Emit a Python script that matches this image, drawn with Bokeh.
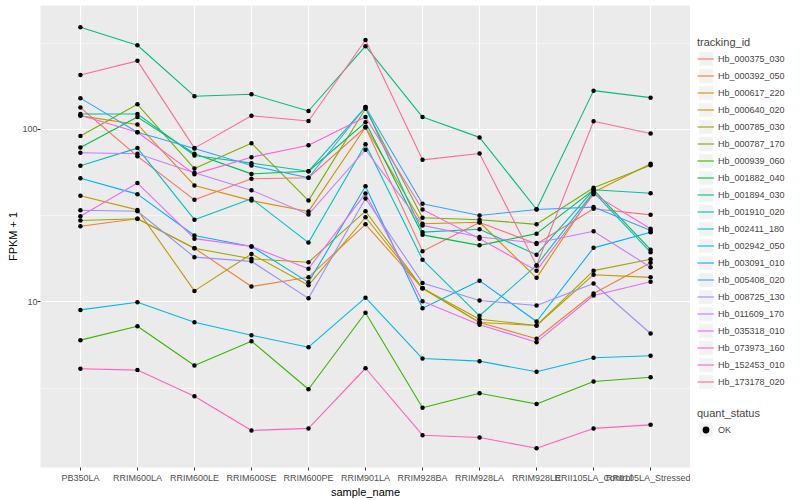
from bokeh.plotting import figure
from bokeh.layouts import row
from bokeh.models import (FactorRange, Range1d, FixedTicker, Legend, LegendItem,
                          ColumnDataSource, BasicTickFormatter)
from bokeh.embed import file_html
from bokeh.resources import INLINE

samples = ["PB350LA", "RRIM600LA", "RRIM600LE", "RRIM600SE", "RRIM600PE", "RRIM901LA",
           "RRIM928BA", "RRIM928LA", "RRIM928LE", "RRII105LA_Control", "RRII105LA_Stressed"]

tracking_ids = ["Hb_000375_030", "Hb_000392_050", "Hb_000617_220", "Hb_000640_020",
                "Hb_000785_030", "Hb_000787_170", "Hb_000939_060", "Hb_001882_040",
                "Hb_001894_030", "Hb_001910_020", "Hb_002411_180", "Hb_002942_050",
                "Hb_003091_010", "Hb_005408_020", "Hb_008725_130", "Hb_011609_170",
                "Hb_035318_010", "Hb_073973_160", "Hb_152453_010", "Hb_173178_020"]

palette = ["#F8766D", "#EA8331", "#D89000", "#C09B00", "#A3A500", "#7CAE00", "#39B600",
           "#00BB4E", "#00BF7D", "#00C1A3", "#00BFC4", "#00BAE0", "#00B0F6", "#35A2FF",
           "#9590FF", "#C77CFF", "#E76BF3", "#FA62DB", "#FF62BC", "#FF6C91"]

# FPKM + 1 per sample
Hb_000375_030 = [134, 70.0, 39.1, 51.8, 52.5, 103, 19.7, 28.9, 21.7, 34.7, 32.0]
Hb_000392_050 = [27.5, 30.4, 20.5, 12.3, 13.9, 28.2, 12.0, 7.61, 6.12, 11.2, 16.9]
Hb_000617_220 = [120, 107, 47.4, 38.7, 33.5, 103, 28.4, 29.0, 13.8, 43.3, 63.3]
Hb_000640_020 = [41.3, 34.2, 11.6, 19.0, 12.5, 31.0, 12.0, 7.61, 7.31, 14.4, 13.9]
Hb_000785_030 = [29.7, 30.4, 20.5, 17.8, 17.0, 33.6, 12.0, 7.95, 7.31, 15.2, 17.7]
Hb_000787_170 = [91.7, 140, 59.4, 83.3, 38.7, 132, 30.8, 30.0, 28.2, 45.9, 62.1]
Hb_000939_060 = [6.01, 7.24, 4.28, 5.93, 3.12, 8.66, 2.44, 2.96, 2.56, 3.46, 3.66]
Hb_001882_040 = [78.7, 118, 72.3, 55.3, 57.3, 110, 24.5, 21.3, 24.9, 44.7, 20.1]
Hb_001894_030 = [392, 308, 156, 160, 128, 304, 118, 90, 34.5, 168, 153]
Hb_001910_020 = [123, 123, 70.7, 63.8, 57.3, 135, 25.4, 26.4, 18.8, 44.7, 42.7]
Hb_002411_180 = [61.6, 78, 30.0, 39.7, 22.1, 82.2, 17.6, 8.32, 16.3, 43.3, 19.4]
Hb_002942_050 = [9.0, 9.97, 7.64, 6.42, 5.47, 10.6, 4.70, 4.54, 3.94, 4.75, 4.88]
Hb_003091_010 = [52.2, 42.2, 24.3, 21.0, 13.0, 46.9, 9.2, 13.3, 7.71, 20.6, 25.4]
Hb_005408_020 = [152, 96.4, 77.6, 61.8, 52.5, 135, 37.1, 31.7, 34.4, 35.5, 26.0]
Hb_008725_130 = [34.0, 33.6, 18.2, 17.2, 10.5, 39.8, 12.9, 10.2, 9.55, 12.8, 6.57]
Hb_011609_170 = [73.3, 72.3, 56.1, 44.5, 32.2, 76.3, 27.8, 23.8, 22.0, 25.7, 15.9]
Hb_035318_010 = [31.4, 48.9, 23.3, 21.0, 15.6, 42.6, 10.1, 7.38, 5.85, 10.9, 13.1]
Hb_073973_160 = [121, 96.4, 55.1, 69.1, 81.1, 118, 34.4, 23.3, 15.2, 42.2, 26.6]
Hb_152453_010 = [4.10, 4.03, 2.84, 1.80, 1.85, 4.13, 1.69, 1.64, 1.42, 1.85, 1.94]
Hb_173178_020 = [207, 250, 78, 120, 112, 330, 66.7, 72.6, 16.3, 111.7, 94.8]

series = [Hb_000375_030, Hb_000392_050, Hb_000617_220, Hb_000640_020, Hb_000785_030,
          Hb_000787_170, Hb_000939_060, Hb_001882_040, Hb_001894_030, Hb_001910_020,
          Hb_002411_180, Hb_002942_050, Hb_003091_010, Hb_005408_020, Hb_008725_130,
          Hb_011609_170, Hb_035318_010, Hb_073973_160, Hb_152453_010, Hb_173178_020]

FONT = "Liberation Sans"

p = figure(x_range=FactorRange(factors=samples, range_padding=0.2,
                               range_padding_units="absolute"),
           y_range=Range1d(10 ** 0.0406, 10 ** 2.7188), y_axis_type="log",
           frame_width=650, frame_height=462,
           min_border_left=40, min_border_top=5, min_border_right=0, min_border_bottom=0,
           output_backend="svg", toolbar_location=None,
           background_fill_color="#EBEBEB", border_fill_color="white")
p.outline_line_color = None

# grid
p.xgrid.grid_line_color = "white"
p.xgrid.grid_line_width = 1.1
p.ygrid.ticker = FixedTicker(ticks=[10, 100], minor_ticks=[10 ** 0.5, 10 ** 1.5, 10 ** 2.5])
p.ygrid.grid_line_color = "white"
p.ygrid.grid_line_width = 1.1
p.ygrid.minor_grid_line_color = "white"
p.ygrid.minor_grid_line_width = 0.55

# axes
p.yaxis.ticker = FixedTicker(ticks=[10, 100], minor_ticks=[])
p.yaxis.formatter = BasicTickFormatter()
for ax in (p.xaxis[0], p.yaxis[0]):
    ax.axis_line_color = None
    ax.major_tick_line_color = "#333333"
    ax.major_tick_out = 3
    ax.major_tick_in = 0
    ax.minor_tick_line_color = None
    ax.major_label_text_color = "#4D4D4D"
    ax.major_label_text_font = FONT
    ax.major_label_text_font_size = "9px"
    ax.major_label_standoff = 0
    ax.axis_label_text_font = FONT
    ax.axis_label_text_font_size = "11px"
    ax.axis_label_text_font_style = "normal"
    ax.axis_label_text_color = "black"
    ax.axis_label_standoff = 0
p.xaxis.major_label_standoff = 2
p.xaxis.axis_label = "sample_name"
p.yaxis.axis_label = "FPKM + 1"

for vals, col in zip(series, palette):
    src = ColumnDataSource(dict(x=samples, y=vals))
    p.line(x="x", y="y", source=src, line_color=col, line_width=1.1)

px, py = [], []
for vals in series:
    px.extend(samples)
    py.extend(vals)
p.scatter(x=px, y=py, marker="circle", size=4.5, fill_color="black", line_color=None)

# legend panel (separate figure so the legends sit beside the plot panel)
lf = figure(width=96, height=480, x_range=Range1d(0, 1), y_range=Range1d(0, 1),
            x_axis_location=None, y_axis_location=None,
            min_border_left=0, min_border_right=0, min_border_top=0, min_border_bottom=0,
            output_backend="svg", toolbar_location=None,
            background_fill_color="white", border_fill_color="white")
lf.outline_line_color = None
lf.grid.visible = False

key_r = lf.quad(left=[5], right=[6], bottom=[5], top=[6], fill_color="#F2F2F2", line_color=None)
items1 = []
for tid, col in zip(tracking_ids, palette):
    lr = lf.line(x=[5, 6], y=[5, 6], line_color=col, line_width=1.1)
    items1.append(LegendItem(label=tid, renderers=[key_r, lr]))
pt_r = lf.scatter(x=[5], y=[5], marker="circle", size=4.5, fill_color="black", line_color=None)
items2 = [LegendItem(label="OK", renderers=[key_r, pt_r])]

common = dict(padding=0, margin=0, spacing=0, label_height=17, glyph_height=17,
              glyph_width=17, label_standoff=4, title_standoff=2,
              label_text_font=FONT, label_text_font_size="9px",
              title_text_font=FONT, title_text_font_size="11px",
              title_text_font_style="normal", background_fill_alpha=0,
              border_line_color=None)

leg1 = Legend(items=items1, title="tracking_id", location=(7, 57), **common)
leg2 = Legend(items=items2, title="quant_status", location=(7, 9), **common)
lf.add_layout(leg1)
lf.add_layout(leg2)

layout = row(p, lf)
open("out.html", "w").write(file_html(layout, INLINE))
